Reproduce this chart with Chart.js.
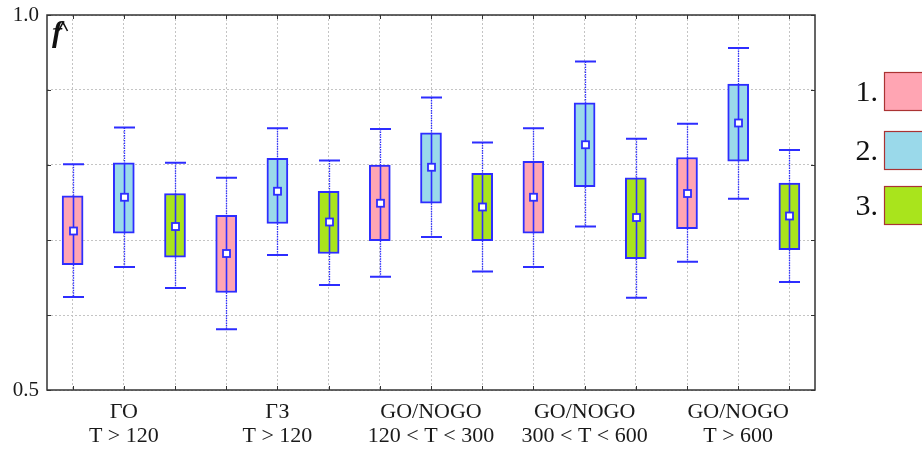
<!DOCTYPE html>
<html>
<head>
<meta charset="utf-8">
<script src="https://cdn.jsdelivr.net/npm/chart.js@4.4.0/dist/chart.umd.min.js"></script>
<style>
  body { margin: 0; background: #fff; }
  canvas { display: block; }
</style>
</head>
<body>
<canvas id="chart" width="922" height="450"></canvas>
<script>
// 15 boxes: 5 groups x 3 conditions, labels only under the middle box of each group
const categories = [
  "", ["ГО", "T > 120"], "",
  "", ["ГЗ", "T > 120"], "",
  "", ["GO/NOGO", "120 < T < 300"], "",
  "", ["GO/NOGO", "300 < T < 600"], "",
  "", ["GO/NOGO", "T > 600"], ""
];
const whiskerHigh = [0.801, 0.850, 0.803, 0.783, 0.849, 0.806, 0.848, 0.890, 0.830, 0.849, 0.938, 0.835, 0.855, 0.956, 0.820];
const boxHigh     = [0.759, 0.803, 0.762, 0.733, 0.809, 0.765, 0.800, 0.843, 0.789, 0.805, 0.883, 0.783, 0.810, 0.908, 0.776];
const means       = [0.712, 0.757, 0.718, 0.682, 0.765, 0.724, 0.749, 0.797, 0.744, 0.757, 0.827, 0.730, 0.762, 0.856, 0.732];
const boxLow      = [0.667, 0.709, 0.677, 0.630, 0.722, 0.682, 0.699, 0.749, 0.699, 0.709, 0.771, 0.675, 0.715, 0.805, 0.687];
const whiskerLow  = [0.624, 0.664, 0.636, 0.581, 0.680, 0.640, 0.651, 0.704, 0.658, 0.664, 0.718, 0.623, 0.671, 0.755, 0.644];
const yTickLabels = { "0.5": "0.5", "1.0": "1.0" };
const legendLabels = ["1.", "2.", "3."];

const fills = ["#ffa5b3", "#9ad9ea", "#a9e41c"];
const blue = "#2d2dff";
const serif = "'Liberation Serif', 'DejaVu Serif', serif";

const boxes = boxLow.map((lo, i) => [lo, boxHigh[i]]);

// whiskers, mean markers, frame, inward ticks, legend and the f-hat label
const extras = {
  id: "extras",
  afterDatasetsDraw(chart) {
    const ctx = chart.ctx;
    const x = chart.scales.x, y = chart.scales.y;
    const area = chart.chartArea;
    const meta = chart.getDatasetMeta(0);
    ctx.save();
    meta.data.forEach((bar, i) => {
      const cx = Math.round(bar.x) + 0.5;
      const half = 10.5;
      const yHi = y.getPixelForValue(whiskerHigh[i]);
      const yLo = y.getPixelForValue(whiskerLow[i]);
      const bHi = y.getPixelForValue(boxHigh[i]);
      const bLo = y.getPixelForValue(boxLow[i]);
      // dotted whisker lines
      ctx.strokeStyle = blue;
      ctx.lineWidth = 1.3;
      ctx.setLineDash([1.5, 1]);
      ctx.beginPath();
      ctx.moveTo(cx, yHi); ctx.lineTo(cx, bHi);
      ctx.moveTo(cx, bLo); ctx.lineTo(cx, yLo);
      ctx.stroke();
      // solid line inside box
      ctx.setLineDash([]);
      ctx.lineWidth = 1.6;
      ctx.beginPath();
      ctx.moveTo(cx, bHi); ctx.lineTo(cx, bLo);
      ctx.stroke();
      // caps
      ctx.lineWidth = 2;
      ctx.beginPath();
      ctx.moveTo(cx - half, yHi); ctx.lineTo(cx + half, yHi);
      ctx.moveTo(cx - half, yLo); ctx.lineTo(cx + half, yLo);
      ctx.stroke();
      // mean marker
      const my = y.getPixelForValue(means[i]);
      ctx.fillStyle = "#fff";
      ctx.lineWidth = 1.8;
      ctx.fillRect(cx - 3.5, my - 3.5, 7, 7);
      ctx.strokeRect(cx - 3.5, my - 3.5, 7, 7);
    });

    // frame
    ctx.strokeStyle = "#333";
    ctx.lineWidth = 1.5;
    ctx.strokeRect(area.left, area.top, area.right - area.left, area.bottom - area.top);

    // inward ticks
    ctx.lineWidth = 1;
    ctx.beginPath();
    x.ticks.forEach((t, i) => {
      const px = Math.round(x.getPixelForTick(i)) + 0.5;
      ctx.moveTo(px, area.bottom); ctx.lineTo(px, area.bottom - 4);
      ctx.moveTo(px, area.top); ctx.lineTo(px, area.top + 4);
    });
    y.ticks.forEach((t, i) => {
      const py = Math.round(y.getPixelForTick(i)) + 0.5;
      ctx.moveTo(area.left, py); ctx.lineTo(area.left + 4, py);
      ctx.moveTo(area.right, py); ctx.lineTo(area.right - 4, py);
    });
    ctx.stroke();

    // f-hat axis label
    ctx.fillStyle = "#111";
    ctx.font = "italic bold 30px " + serif;
    ctx.textAlign = "left";
    ctx.textBaseline = "alphabetic";
    ctx.fillText("f", 52, 42);
    ctx.strokeStyle = "#111";
    ctx.lineWidth = 1.6;
    ctx.beginPath();
    ctx.moveTo(58.5, 31); ctx.lineTo(63, 22.5); ctx.lineTo(67.5, 31);
    ctx.stroke();

    // legend
    const legendTops = [72, 131, 186];
    ctx.font = "30px " + serif;
    legendLabels.forEach((lab, i) => {
      const top = legendTops[i];
      ctx.fillStyle = "#111";
      ctx.textAlign = "right";
      ctx.textBaseline = "middle";
      ctx.fillText(lab, 878, top + 21);
      ctx.fillStyle = fills[i];
      ctx.fillRect(884, top, 40, 39);
      ctx.strokeStyle = "#a33";
      ctx.lineWidth = 1.2;
      ctx.strokeRect(884.5, top + 0.5, 40, 38);
    });
    ctx.restore();
  }
};

new Chart(document.getElementById("chart"), {
  type: "bar",
  data: {
    labels: categories,
    datasets: [{
      data: boxes,
      backgroundColor: categories.map((c, i) => fills[i % 3]),
      borderColor: blue,
      borderWidth: 2,
      borderSkipped: false,
      barThickness: 21
    }]
  },
  options: {
    responsive: false,
    animation: false,
    layout: { padding: { top: 15, right: 107, left: 0, bottom: 0 } },
    plugins: { legend: { display: false }, tooltip: { enabled: false } },
    scales: {
      x: {
        offset: true,
        grid: { offset: false, color: "#c4c4c4", lineWidth: 1, drawTicks: false },
        border: { display: false, dash: [2, 2] },
        ticks: {
          autoSkip: false,
          maxRotation: 0,
          padding: 10,
          color: "#1a1a1a",
          font: { family: serif, size: 22, lineHeight: 1.1 }
        },
        afterFit(scale) { scale.height = 60; }
      },
      y: {
        min: 0.5,
        max: 1.0,
        grid: { color: "#c4c4c4", lineWidth: 1, drawTicks: false },
        border: { display: false, dash: [2, 2] },
        ticks: {
          stepSize: 0.1,
          padding: 8,
          color: "#1a1a1a",
          font: { family: serif, size: 21, lineHeight: 0.5 },
          callback(v) { return yTickLabels[v.toFixed(1)] || ""; }
        },
        afterFit(scale) { scale.width = 47; }
      }
    }
  },
  plugins: [extras]
});
</script>
</body>
</html>
